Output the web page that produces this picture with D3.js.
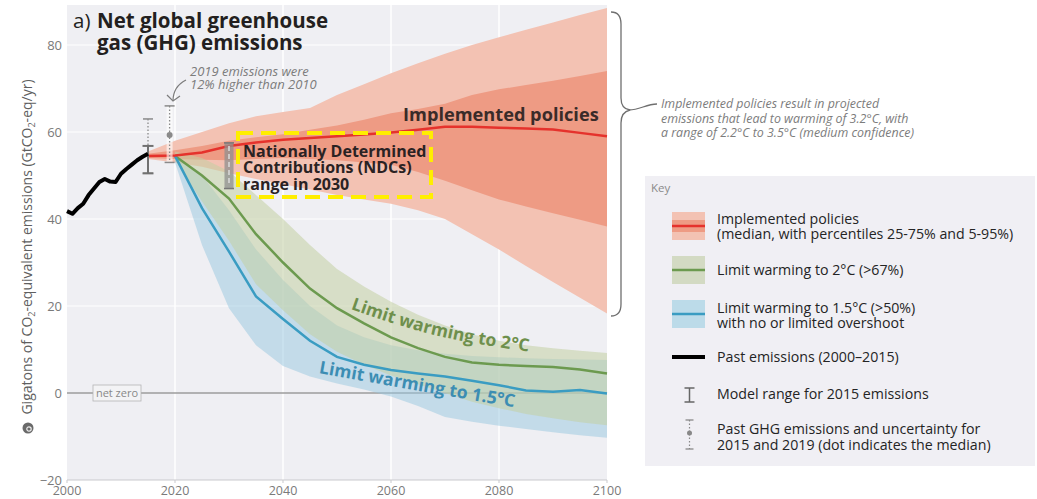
<!DOCTYPE html>
<html>
<head>
<meta charset="utf-8">
<script src="https://cdn.jsdelivr.net/npm/d3@7"></script>
<style>
  body { margin: 0; background: #ffffff; }
  svg { display: block; font-family: "Open Sans", "Noto Sans", sans-serif; }
</style>
</head>
<body>
<svg id="chart" width="1037" height="499"></svg>
<script>
// ---- Past emissions (GtCO2-eq/yr) ----
const pastYears  = [2000, 2001, 2002, 2003, 2004, 2005, 2006, 2007, 2008, 2009, 2010, 2011, 2012, 2013, 2014, 2015];
const pastValues = [41.8, 41.2, 42.5, 43.5, 45.5, 47.0, 48.5, 49.2, 48.6, 48.5, 50.4, 51.5, 52.5, 53.5, 54.3, 55.0];

// ---- Implemented policies: median with 25-75% and 5-95% ranges ----
const policyYears  = [2015, 2020, 2025, 2030, 2035, 2040, 2045, 2050, 2055, 2060, 2065, 2070, 2075, 2080, 2085, 2090, 2095, 2100];
const policyMedian = [54.5, 54.6, 55.3, 56.8, 57.6, 58.2, 58.6, 59.0, 59.4, 59.9, 60.5, 61.2, 61.2, 61.0, 60.8, 60.6, 59.8, 59.0];
const policyP75    = [55.0, 55.8, 56.8, 58.0, 58.8, 59.5, 60.5, 61.5, 62.8, 64.3, 65.3, 66.5, 68.5, 69.8, 70.8, 71.8, 72.9, 74.0];
const policyP25    = [54.0, 53.8, 53.6, 53.5, 53.8, 54.0, 53.8, 53.5, 53.0, 52.5, 50.8, 48.8, 46.6, 44.5, 42.9, 41.3, 39.8, 38.3];
const policyP95    = [55.5, 58.0, 60.0, 62.0, 63.6, 64.6, 65.5, 68.5, 71.0, 73.5, 75.8, 78.0, 80.0, 81.8, 83.5, 85.2, 86.9, 88.5];
const policyP5     = [53.8, 53.0, 52.0, 50.5, 49.2, 48.0, 46.8, 45.5, 44.5, 43.5, 42.0, 40.0, 36.5, 33.0, 29.2, 25.5, 21.9, 18.3];

// ---- Mitigation pathways ----
const pathwayYears = [2020, 2025, 2030, 2035, 2040, 2045, 2050, 2055, 2060, 2065, 2070, 2075, 2080, 2085, 2090, 2095, 2100];
const limit2Median  = [54.5, 50.0, 44.7, 36.5, 30.0, 24.0, 19.5, 16.0, 12.8, 10.3, 8.3, 7.0, 6.5, 6.2, 6.0, 5.4, 4.5];
const limit2High    = [55.5, 54.0, 51.0, 45.5, 40.0, 34.0, 28.5, 24.5, 21.0, 18.0, 15.5, 13.5, 12.0, 11.0, 10.3, 9.7, 9.2];
const limit2Low     = [53.5, 44.0, 35.0, 25.0, 19.0, 13.5, 9.5, 6.5, 4.0, 2.0, 0.0, -2.0, -3.5, -4.8, -5.8, -6.7, -7.4];
const limit15Median = [54.5, 42.5, 32.5, 22.2, 17.0, 12.0, 8.3, 6.5, 5.3, 4.5, 3.8, 2.8, 1.8, 0.6, 0.3, 0.7, -0.1];
const limit15High   = [54.5, 50.0, 42.0, 33.0, 26.0, 20.0, 15.5, 12.8, 11.0, 9.8, 9.0, 8.5, 8.2, 8.0, 7.8, 7.7, 7.6];
const limit15Low    = [53.0, 34.0, 19.5, 11.0, 6.2, 3.8, 2.2, 0.8, -0.8, -3.0, -5.5, -6.6, -7.5, -8.3, -9.0, -9.7, -10.3];

// ---- Ranges drawn as bars ----
const modelRangeYears = [2015];
const modelRangeLow   = [50.5];
const modelRangeHigh  = [56.8];
const pastGhgYears    = [2015, 2019];
const pastGhgLow      = [50.5, 53.0];
const pastGhgHigh     = [63.0, 66.0];
const pastGhgMedian   = [null, 59.3];
const ndcYears = [2030];
const ndcLow   = [47.0];
const ndcHigh  = [57.5];

// ---- Axes ----
const xTicks = [2000, 2020, 2040, 2060, 2080, 2100];
const yTicks = [-20, 0, 20, 40, 60, 80];

// ---- Legend entries ----
const legendLabels = [
  ["Implemented policies", "(median, with percentiles 25-75% and 5-95%)"],
  ["Limit warming to 2°C (>67%)"],
  ["Limit warming to 1.5°C (>50%)", "with no or limited overshoot"],
  ["Past emissions (2000–2015)"],
  ["Model range for 2015 emissions"],
  ["Past GHG emissions and uncertainty for", "2015 and 2019 (dot indicates the median)"]
];

// ---- Colours ----
const C = {
  bg: "#efeff3",
  grid: "#ffffff",
  redOuter: "#f3c2b3",
  redInner: "#ee9b84",
  redLine: "#e5322c",
  greenFill: "#c3cfa2",
  greenLine: "#6c9a4f",
  greenText: "#6e8f4c",
  blueFill: "#98c8df",
  blueLine: "#3a9cc2",
  blueText: "#3c8db3",
  axisText: "#7a7a7a",
  note: "#7c7c7c"
};

const svg = d3.select("#chart");
const x = d3.scaleLinear().domain([2000, 2100]).range([67, 607]);
const y = d3.scaleLinear().domain([-20, 80]).range([480, 45]);

// plot panel
svg.append("rect")
  .attr("x", x(2000)).attr("y", 5)
  .attr("width", x(2100) - x(2000)).attr("height", y(-20) - 5)
  .attr("fill", C.bg);

// gridlines
svg.append("g").selectAll("line").data(xTicks.filter(t => t > 2000 && t < 2100)).join("line")
  .attr("x1", d => x(d)).attr("x2", d => x(d))
  .attr("y1", 5).attr("y2", y(-20))
  .attr("stroke", C.grid).attr("stroke-width", 1.5);
svg.append("g").selectAll("line").data(yTicks.filter(t => t > -20 && t !== 0)).join("line")
  .attr("x1", x(2000)).attr("x2", x(2100))
  .attr("y1", d => y(d)).attr("y2", d => y(d))
  .attr("stroke", C.grid).attr("stroke-width", 1);

// net zero line
svg.append("line")
  .attr("x1", x(2000)).attr("x2", x(2100))
  .attr("y1", y(0)).attr("y2", y(0))
  .attr("stroke", "#9c9c9c").attr("stroke-width", 1.5);

// helpers
const zipBand = (years, lo, hi) => years.map((yr, i) => ({ yr, lo: lo[i], hi: hi[i] }));
const zipLine = (years, v) => years.map((yr, i) => ({ yr, v: v[i] }));
const area = d3.area().x(d => x(d.yr)).y0(d => y(d.lo)).y1(d => y(d.hi));
const line = d3.line().x(d => x(d.yr)).y(d => y(d.v));

// implemented policies ranges
svg.append("path").datum(zipBand(policyYears, policyP5, policyP95))
  .attr("d", area).attr("fill", C.redOuter);
svg.append("path").datum(zipBand(policyYears, policyP25, policyP75))
  .attr("d", area).attr("fill", C.redInner);

// pathway ranges
svg.append("path").datum(zipBand(pathwayYears, limit15Low, limit15High))
  .attr("d", area).attr("fill", C.blueFill).attr("fill-opacity", 0.5);
svg.append("path").datum(zipBand(pathwayYears, limit2Low, limit2High))
  .attr("d", area).attr("fill", C.greenFill).attr("fill-opacity", 0.55);

// medians
svg.append("path").datum(zipLine(pathwayYears, limit2Median))
  .attr("d", line).attr("fill", "none").attr("stroke", C.greenLine).attr("stroke-width", 2.5);
svg.append("path").datum(zipLine(pathwayYears, limit15Median))
  .attr("d", line).attr("fill", "none").attr("stroke", C.blueLine).attr("stroke-width", 2.5);
svg.append("path").datum(zipLine(policyYears, policyMedian))
  .attr("d", line).attr("fill", "none").attr("stroke", C.redLine).attr("stroke-width", 2.5);

// NDC range in 2030
const ndc = svg.append("g");
ndcYears.forEach((yr, i) => {
  ndc.append("rect")
    .attr("x", x(yr) - 4.5).attr("y", y(ndcHigh[i]))
    .attr("width", 9).attr("height", y(ndcLow[i]) - y(ndcHigh[i]))
    .attr("fill", "#8f8f8f").attr("fill-opacity", 0.75);
  ndc.append("line")
    .attr("x1", x(yr)).attr("x2", x(yr))
    .attr("y1", y(ndcHigh[i]) + 3).attr("y2", y(ndcLow[i]) - 3)
    .attr("stroke", "#d8d8d8").attr("stroke-width", 1.6).attr("stroke-dasharray", "5,3");
  [ndcHigh[i], ndcLow[i]].forEach(v => ndc.append("line")
    .attr("x1", x(yr) - 5).attr("x2", x(yr) + 5)
    .attr("y1", y(v)).attr("y2", y(v))
    .attr("stroke", "#777").attr("stroke-width", 1.5));
});

// past GHG emissions and uncertainty (dotted)
const ghg = svg.append("g");
pastGhgYears.forEach((yr, i) => {
  const cx = x(yr);
  if (pastGhgMedian[i] !== null) {
    ghg.append("rect")
      .attr("x", cx - 3).attr("y", y(pastGhgHigh[i]))
      .attr("width", 6).attr("height", y(pastGhgLow[i]) - y(pastGhgHigh[i]))
      .attr("fill", "#ffffff").attr("fill-opacity", 0.6);
  }
  ghg.append("line")
    .attr("x1", cx).attr("x2", cx)
    .attr("y1", y(pastGhgHigh[i])).attr("y2", y(pastGhgLow[i]))
    .attr("stroke", "#8a8a8a").attr("stroke-width", 1.3).attr("stroke-dasharray", "1.5,2");
  ghg.append("line")
    .attr("x1", cx - 5).attr("x2", cx + 5)
    .attr("y1", y(pastGhgHigh[i])).attr("y2", y(pastGhgHigh[i]))
    .attr("stroke", "#8a8a8a").attr("stroke-width", 1.5);
  ghg.append("line")
    .attr("x1", cx - 5).attr("x2", cx + 5)
    .attr("y1", y(pastGhgLow[i])).attr("y2", y(pastGhgLow[i]))
    .attr("stroke", "#8a8a8a").attr("stroke-width", 1.5);
  if (pastGhgMedian[i] !== null) {
    ghg.append("circle").attr("cx", cx).attr("cy", y(pastGhgMedian[i])).attr("r", 3)
      .attr("fill", "#8a8a8a");
  }
});

// model range for 2015
const mr = svg.append("g");
modelRangeYears.forEach((yr, i) => {
  const cx = x(yr);
  mr.append("line").attr("x1", cx).attr("x2", cx)
    .attr("y1", y(modelRangeHigh[i])).attr("y2", y(modelRangeLow[i]))
    .attr("stroke", "#707070").attr("stroke-width", 2);
  [modelRangeHigh[i], modelRangeLow[i]].forEach(v => mr.append("line")
    .attr("x1", cx - 5.5).attr("x2", cx + 5.5)
    .attr("y1", y(v)).attr("y2", y(v))
    .attr("stroke", "#707070").attr("stroke-width", 2));
});

// past emissions
svg.append("path").datum(zipLine(pastYears, pastValues))
  .attr("d", line).attr("fill", "none").attr("stroke", "#000")
  .attr("stroke-width", 4).attr("stroke-linejoin", "round");

// net zero label
const nz = svg.append("g");
nz.append("rect").attr("x", 93).attr("y", y(0) - 8).attr("width", 48).attr("height", 16)
  .attr("fill", "#f3f3f5").attr("stroke", "#b5b5b5").attr("stroke-width", 0.8);
nz.append("text").attr("x", 117).attr("y", y(0) + 4).attr("text-anchor", "middle")
  .attr("font-size", 11).attr("fill", "#888").text("net zero");

// axes
svg.append("line").attr("x1", x(2000)).attr("x2", x(2100))
  .attr("y1", y(-20)).attr("y2", y(-20)).attr("stroke", "#c9c9cd").attr("stroke-width", 1);
svg.append("g").selectAll("line").data(xTicks).join("line")
  .attr("x1", d => x(d)).attr("x2", d => x(d))
  .attr("y1", y(-20)).attr("y2", y(-20) + 3).attr("stroke", "#c9c9cd");
svg.append("g").selectAll("text").data(xTicks).join("text")
  .attr("x", d => x(d)).attr("y", 495).attr("text-anchor", "middle")
  .attr("font-size", 12.5).attr("fill", C.axisText).text(d => d);
svg.append("g").selectAll("text").data(yTicks).join("text")
  .attr("x", 62).attr("y", d => y(d) + 4.5).attr("text-anchor", "end")
  .attr("font-size", 13).attr("fill", C.axisText)
  .text(d => d < 0 ? "\u2212" + Math.abs(d) : d);

// y axis title
const yt = svg.append("text")
  .attr("transform", "translate(32,247) rotate(-90)")
  .attr("text-anchor", "middle").attr("font-size", 14).attr("fill", "#5f5f5f");
yt.append("tspan").text("Gigatons of CO");
yt.append("tspan").attr("font-size", 9).attr("dy", 3).text("2");
yt.append("tspan").attr("dy", -3).text("-equivalent emissions (GtCO");
yt.append("tspan").attr("font-size", 9).attr("dy", 3).text("2");
yt.append("tspan").attr("dy", -3).text("-eq/yr)");
const icon = svg.append("g").attr("transform", "translate(28,428)");
icon.append("circle").attr("r", 5.5).attr("fill", "#6a6a6a");
icon.append("circle").attr("r", 2.2).attr("cx", 1).attr("cy", 1).attr("fill", "none")
  .attr("stroke", "#eee").attr("stroke-width", 1.2);

// title
svg.append("text").attr("x", 73).attr("y", 28).attr("font-size", 20.5).attr("fill", "#231f20").text("a)");
svg.append("text").attr("x", 97).attr("y", 28).attr("font-size", 20.5).attr("font-weight", 700)
  .attr("fill", "#231f20").text("Net global greenhouse");
svg.append("text").attr("x", 97).attr("y", 50).attr("font-size", 20.5).attr("font-weight", 700)
  .attr("fill", "#231f20").text("gas (GHG) emissions");

// 2019 note with arrow
const note = svg.append("g").attr("fill", C.note).attr("font-size", 13).attr("font-style", "italic");
note.append("text").attr("x", 190).attr("y", 76).text("2019 emissions were");
note.append("text").attr("x", 190).attr("y", 89).text("12% higher than 2010");
svg.append("path").attr("d", "M186,80 C178,84 173,90 173,101")
  .attr("fill", "none").attr("stroke", "#7c7c7c").attr("stroke-width", 1.2);
svg.append("path").attr("d", "M167,95 L173,101 L180,96")
  .attr("fill", "none").attr("stroke", "#7c7c7c").attr("stroke-width", 1.2);

// Implemented policies label
svg.append("text").attr("x", 403).attr("y", 121).attr("font-size", 18.2).attr("font-weight", 700)
  .attr("fill", "#3a2b29").text("Implemented policies");

// NDC box
svg.append("rect").attr("x", 238).attr("y", 133).attr("width", 193).attr("height", 64)
  .attr("fill", "none").attr("stroke", "#ffee00").attr("stroke-width", 4)
  .attr("stroke-dasharray", "15,8");
const ndcText = svg.append("g").attr("font-size", 16).attr("font-weight", 700).attr("fill", "#2a2223");
["Nationally Determined", "Contributions (NDCs)", "range in 2030"].forEach((t, i) =>
  ndcText.append("text").attr("x", 243).attr("y", 157 + i * 16.3).text(t));

// curved pathway labels
const labelLine = d3.line().x(d => x(d[0])).y(d => y(d[1])).curve(d3.curveNatural);
const defs = svg.append("defs");
defs.append("path").attr("id", "lab2")
  .attr("d", labelLine([[2052.5, 19.3], [2071, 12.5], [2096, 7.8]]));
defs.append("path").attr("id", "lab15")
  .attr("d", labelLine([[2046.6, 4.6], [2066, 0.3], [2092, -5.2]]));
svg.append("text").attr("font-size", 17.5).attr("font-weight", 700).attr("fill", C.greenText)
  .append("textPath").attr("href", "#lab2").text("Limit warming to 2°C");
svg.append("text").attr("font-size", 17.5).attr("font-weight", 700).attr("fill", C.blueText)
  .append("textPath").attr("href", "#lab15").text("Limit warming to 1.5°C");

// brace and warming note
svg.append("path")
  .attr("d", "M611,12 Q621,12 621,24 L621,98 Q621,109 630,110 Q621,112 621,123 L621,304 Q621,316 611,316")
  .attr("fill", "none").attr("stroke", "#6f6f6f").attr("stroke-width", 1.3);
svg.append("path").attr("d", "M629,110 C640,110 646,104 657,104")
  .attr("fill", "none").attr("stroke", "#6f6f6f").attr("stroke-width", 1.3);
const wn = svg.append("g").attr("fill", C.note).attr("font-size", 12.4).attr("font-style", "italic");
["Implemented policies result in projected",
 "emissions that lead to warming of 3.2°C, with",
 "a range of 2.2°C to 3.5°C (medium confidence)"].forEach((t, i) =>
  wn.append("text").attr("x", 661).attr("y", 108 + i * 14.5).text(t));

// legend
const lg = svg.append("g");
lg.append("rect").attr("x", 645).attr("y", 176).attr("width", 390).attr("height", 290).attr("fill", "#f0eff4");
lg.append("text").attr("x", 651).attr("y", 192).attr("font-size", 11.5).attr("fill", "#8a8a8a").text("Key");
const sx = 672, sw = 33, tx = 717;
// implemented policies swatch
lg.append("rect").attr("x", sx).attr("y", 212).attr("width", sw).attr("height", 28).attr("fill", C.redOuter);
lg.append("rect").attr("x", sx).attr("y", 220).attr("width", sw).attr("height", 12).attr("fill", C.redInner);
lg.append("line").attr("x1", sx).attr("x2", sx + sw).attr("y1", 226).attr("y2", 226)
  .attr("stroke", C.redLine).attr("stroke-width", 2.5);
// 2 degree swatch
lg.append("rect").attr("x", sx).attr("y", 256).attr("width", sw).attr("height", 28).attr("fill", "#d3dac3");
lg.append("line").attr("x1", sx).attr("x2", sx + sw).attr("y1", 270).attr("y2", 270)
  .attr("stroke", C.greenLine).attr("stroke-width", 2.5);
// 1.5 degree swatch
lg.append("rect").attr("x", sx).attr("y", 300).attr("width", sw).attr("height", 28).attr("fill", "#bcdbe9");
lg.append("line").attr("x1", sx).attr("x2", sx + sw).attr("y1", 314).attr("y2", 314)
  .attr("stroke", C.blueLine).attr("stroke-width", 2.5);
// past emissions swatch
lg.append("line").attr("x1", sx).attr("x2", sx + sw).attr("y1", 357).attr("y2", 357)
  .attr("stroke", "#000").attr("stroke-width", 4);
// model range swatch
const lcx = sx + sw / 2 + 1;
lg.append("line").attr("x1", lcx).attr("x2", lcx).attr("y1", 388).attr("y2", 402).attr("stroke", "#666").attr("stroke-width", 1.5);
[388, 402].forEach(v => lg.append("line").attr("x1", lcx - 5).attr("x2", lcx + 5).attr("y1", v).attr("y2", v)
  .attr("stroke", "#666").attr("stroke-width", 1.5));
// past GHG swatch
lg.append("line").attr("x1", lcx).attr("x2", lcx).attr("y1", 420).attr("y2", 449)
  .attr("stroke", "#888").attr("stroke-width", 1.2).attr("stroke-dasharray", "1.5,2");
[420, 449].forEach(v => lg.append("line").attr("x1", lcx - 4).attr("x2", lcx + 4).attr("y1", v).attr("y2", v)
  .attr("stroke", "#888").attr("stroke-width", 1.3));
lg.append("circle").attr("cx", lcx).attr("cy", 433).attr("r", 2.5).attr("fill", "#888");

const legendTextY = [[223.5, 239], [275], [312.5, 328], [362], [398.5], [433.5, 449.5]];
legendLabels.forEach((lines, i) => lines.forEach((t, j) =>
  lg.append("text").attr("x", tx).attr("y", legendTextY[i][j])
    .attr("font-size", 14.2).attr("fill", "#242424").text(t)));
</script>
</body>
</html>
